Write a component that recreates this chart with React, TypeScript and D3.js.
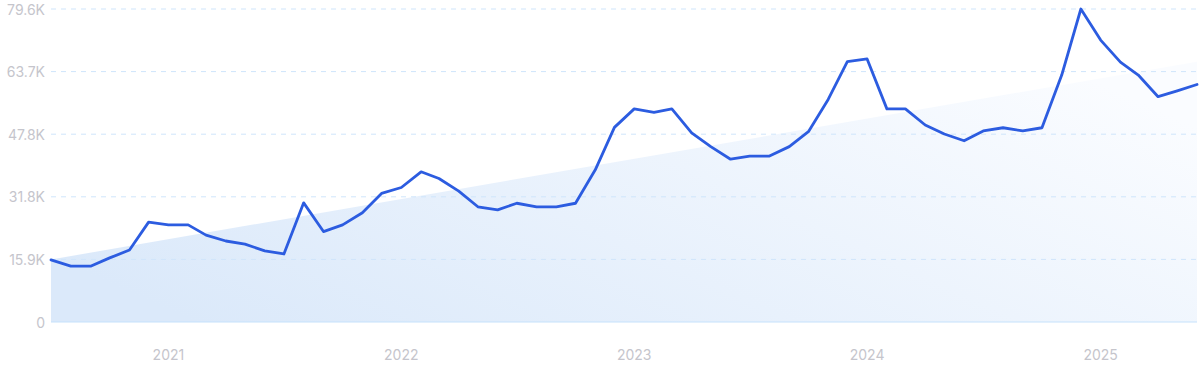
import React from "react";
import * as d3 from "d3";

const months: string[] = [
  "2020-07","2020-08","2020-09","2020-10","2020-11","2020-12",
  "2021-01","2021-02","2021-03","2021-04","2021-05","2021-06","2021-07","2021-08","2021-09","2021-10","2021-11","2021-12",
  "2022-01","2022-02","2022-03","2022-04","2022-05","2022-06","2022-07","2022-08","2022-09","2022-10","2022-11","2022-12",
  "2023-01","2023-02","2023-03","2023-04","2023-05","2023-06","2023-07","2023-08","2023-09","2023-10","2023-11","2023-12",
  "2024-01","2024-02","2024-03","2024-04","2024-05","2024-06","2024-07","2024-08","2024-09","2024-10","2024-11","2024-12",
  "2025-01","2025-02","2025-03","2025-04","2025-05","2025-06",
];

const values: number[] = [
  15.8, 14.2, 14.2, 16.3, 18.3, 25.4,
  24.7, 24.7, 22.1, 20.6, 19.8, 18.1, 17.3, 30.3, 23.0, 24.7, 27.8, 32.7,
  34.2, 38.2, 36.5, 33.3, 29.3, 28.5, 30.2, 29.3, 29.3, 30.2, 38.7, 49.5,
  54.2, 53.3, 54.2, 48.1, 44.6, 41.4, 42.2, 42.2, 44.6, 48.4, 56.6, 66.2,
  66.9, 54.2, 54.2, 50.1, 47.8, 46.1, 48.6, 49.4, 48.6, 49.4, 62.8, 79.6,
  71.7, 66.1, 62.8, 57.3, 58.8, 60.4,
].map((v) => v * 1000);

const trendEnds: number[] = [15900, 66200];

const yTicks: number[] = [0, 15920, 31840, 47760, 63680, 79600];
const yearTicks: string[] = ["2021", "2022", "2023", "2024", "2025"];

const W = 1200;
const H = 371;
const left = 51;
const right = 1197;
const top = 9;
const bottom = 322;

export default function App() {
  const parse = d3.timeParse("%Y-%m");
  const dates = months.map((m) => parse(m) as Date);
  const x = d3.scaleTime().domain([dates[0], dates[dates.length - 1]]).range([left, right]);
  const y = d3.scaleLinear().domain([0, 79600]).range([bottom, top]);

  const data = dates.map((d, i) => ({ d, v: values[i] }));
  const line = d3.line<{ d: Date; v: number }>().x((p) => x(p.d)).y((p) => y(p.v));

  const trend = [
    { d: dates[0], v: trendEnds[0] },
    { d: dates[dates.length - 1], v: trendEnds[1] },
  ];
  const area = d3
    .area<{ d: Date; v: number }>()
    .x((p) => x(p.d))
    .y0(y(0))
    .y1((p) => y(p.v));

  const fmt = (v: number) => (v === 0 ? "0" : (v / 1000).toFixed(1) + "K");
  const font = "Inter, 'Noto Sans', sans-serif";

  return (
    <svg width={W} height={H} style={{ position: "absolute", left: 0, top: 0, display: "block" }}>
      <defs>
        <linearGradient id="tg" x1="0" y1="0.75" x2="1" y2="0.25">
          <stop offset="0%" stopColor="#dbe9fa" />
          <stop offset="100%" stopColor="#fafcff" />
        </linearGradient>
      </defs>
      <rect width={W} height={H} fill="#ffffff" />
      <path d={area(trend) || ""} fill="url(#tg)" />
      {yTicks.slice(1).map((t) => (
        <line
          key={t}
          x1={left}
          x2={right}
          y1={y(t)}
          y2={y(t)}
          stroke="#cfe5fb"
          strokeWidth={1}
          strokeDasharray="5 5"
        />
      ))}
      <line x1={left} x2={right} y1={y(0)} y2={y(0)} stroke="#c6e1fb" strokeWidth={1.2} />
      {yTicks.map((t) => (
        <text
          key={"l" + t}
          x={45}
          y={y(t)}
          textAnchor="end"
          dominantBaseline="central"
          fontFamily={font}
          fontSize={14}
          fill="#c5c5cc"
        >
          {fmt(t)}
        </text>
      ))}
      {yearTicks.map((yr) => (
        <text
          key={yr}
          x={x(parse(yr + "-01") as Date)}
          y={354}
          textAnchor="middle"
          dominantBaseline="central"
          fontFamily={font}
          fontSize={14}
          fill="#c5c5cc"
        >
          {yr}
        </text>
      ))}
      <path
        d={line(data) || ""}
        fill="none"
        stroke="#2c5ce0"
        strokeWidth={2.8}
        strokeLinejoin="round"
        strokeLinecap="round"
      />
    </svg>
  );
}
